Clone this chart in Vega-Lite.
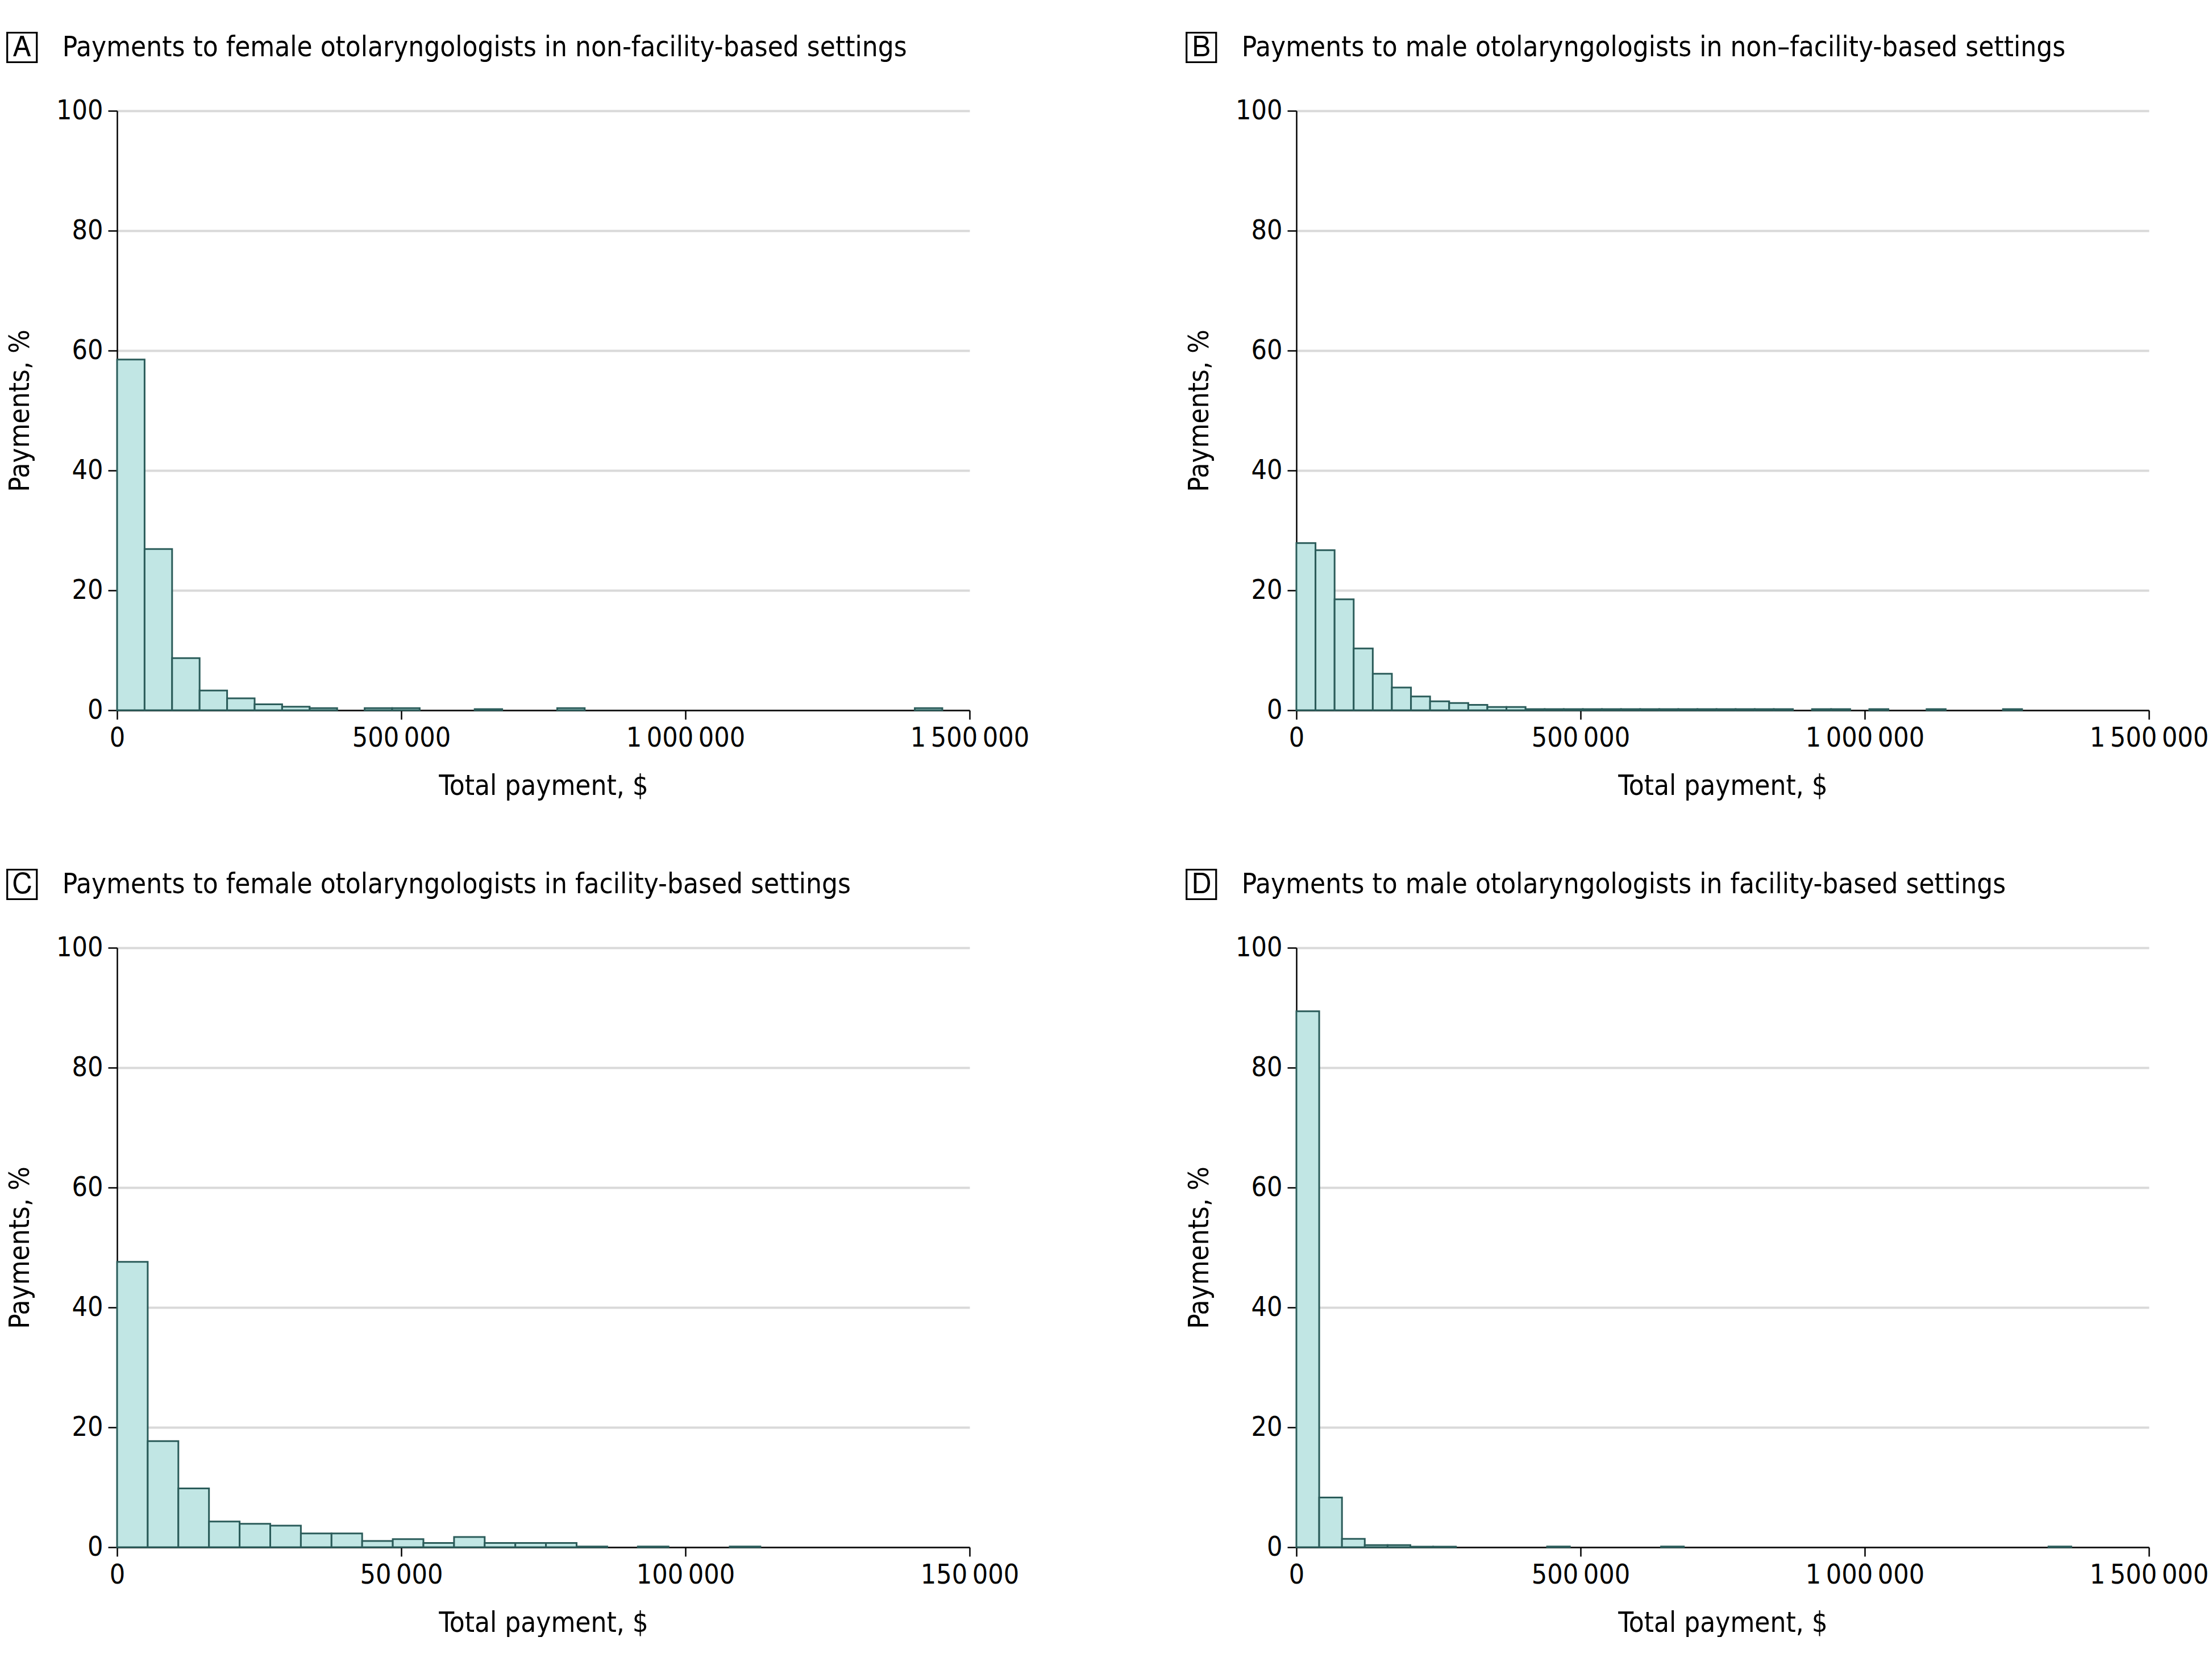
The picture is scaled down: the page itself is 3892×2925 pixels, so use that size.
{
  "$schema": "https://vega.github.io/schema/vega-lite/v6.json",
  "background": "white",
  "padding": {"left": 11, "top": 60, "right": 0, "bottom": 0},
  "columns": 2,
  "spacing": {"row": 125, "column": 275},
  "datasets": {
    "a": [
      {"start": 0, "end": 48400, "pct": 58.5},
      {"start": 48400, "end": 96800, "pct": 26.9},
      {"start": 96800, "end": 145200, "pct": 8.7},
      {"start": 145200, "end": 193600, "pct": 3.3},
      {"start": 193600, "end": 242000, "pct": 2.0},
      {"start": 242000, "end": 290400, "pct": 1.0},
      {"start": 290400, "end": 338800, "pct": 0.6},
      {"start": 338800, "end": 387200, "pct": 0.35},
      {"start": 435600, "end": 484000, "pct": 0.35},
      {"start": 484000, "end": 532400, "pct": 0.35},
      {"start": 629200, "end": 677600, "pct": 0.2},
      {"start": 774400, "end": 822800, "pct": 0.35},
      {"start": 1403600, "end": 1452000, "pct": 0.35}
    ],
    "b": [
      {"start": 0, "end": 33600, "pct": 27.9},
      {"start": 33600, "end": 67200, "pct": 26.7},
      {"start": 67200, "end": 100800, "pct": 18.5},
      {"start": 100800, "end": 134400, "pct": 10.3},
      {"start": 134400, "end": 168000, "pct": 6.1},
      {"start": 168000, "end": 201600, "pct": 3.8},
      {"start": 201600, "end": 235200, "pct": 2.3},
      {"start": 235200, "end": 268800, "pct": 1.5},
      {"start": 268800, "end": 302400, "pct": 1.2},
      {"start": 302400, "end": 336000, "pct": 0.9},
      {"start": 336000, "end": 369600, "pct": 0.55},
      {"start": 369600, "end": 403200, "pct": 0.55},
      {"start": 403200, "end": 436800, "pct": 0.2},
      {"start": 436800, "end": 470400, "pct": 0.2},
      {"start": 470400, "end": 504000, "pct": 0.2},
      {"start": 504000, "end": 537600, "pct": 0.2},
      {"start": 537600, "end": 571200, "pct": 0.2},
      {"start": 571200, "end": 604800, "pct": 0.2},
      {"start": 604800, "end": 638400, "pct": 0.2},
      {"start": 638400, "end": 672000, "pct": 0.2},
      {"start": 672000, "end": 705600, "pct": 0.2},
      {"start": 705600, "end": 739200, "pct": 0.2},
      {"start": 739200, "end": 772800, "pct": 0.2},
      {"start": 772800, "end": 806400, "pct": 0.2},
      {"start": 806400, "end": 840000, "pct": 0.2},
      {"start": 840000, "end": 873600, "pct": 0.2},
      {"start": 907200, "end": 940800, "pct": 0.2},
      {"start": 940800, "end": 974400, "pct": 0.2},
      {"start": 1008000, "end": 1041600, "pct": 0.2},
      {"start": 1108800, "end": 1142400, "pct": 0.2},
      {"start": 1243200, "end": 1276800, "pct": 0.2}
    ],
    "c": [
      {"start": 0, "end": 5390, "pct": 47.6},
      {"start": 5390, "end": 10780, "pct": 17.7},
      {"start": 10780, "end": 16170, "pct": 9.8},
      {"start": 16170, "end": 21560, "pct": 4.3},
      {"start": 21560, "end": 26950, "pct": 3.9},
      {"start": 26950, "end": 32340, "pct": 3.6},
      {"start": 32340, "end": 37730, "pct": 2.3},
      {"start": 37730, "end": 43120, "pct": 2.3},
      {"start": 43120, "end": 48510, "pct": 1.05},
      {"start": 48510, "end": 53900, "pct": 1.35},
      {"start": 53900, "end": 59290, "pct": 0.7},
      {"start": 59290, "end": 64680, "pct": 1.7},
      {"start": 64680, "end": 70070, "pct": 0.7},
      {"start": 70070, "end": 75460, "pct": 0.7},
      {"start": 75460, "end": 80850, "pct": 0.7},
      {"start": 80850, "end": 86240, "pct": 0.12},
      {"start": 91630, "end": 97020, "pct": 0.12},
      {"start": 107800, "end": 113190, "pct": 0.12}
    ],
    "d": [
      {"start": 0, "end": 40100, "pct": 89.4},
      {"start": 40100, "end": 80200, "pct": 8.3},
      {"start": 80200, "end": 120300, "pct": 1.4},
      {"start": 120300, "end": 160400, "pct": 0.35},
      {"start": 160400, "end": 200500, "pct": 0.35},
      {"start": 200500, "end": 240600, "pct": 0.1},
      {"start": 240600, "end": 280700, "pct": 0.1},
      {"start": 441100, "end": 481200, "pct": 0.12},
      {"start": 641600, "end": 681700, "pct": 0.12},
      {"start": 1323300, "end": 1363400, "pct": 0.12}
    ]
  },
  "concat": [
    {
      "title": "🄰\u2003Payments to female otolaryngologists in non-facility-based settings",
      "width": 1500, "height": 1055,
      "data": {"name": "a"},
      "mark": {"type": "bar", "fill": "#c1e6e4", "stroke": "#2b5c5a", "strokeWidth": 3},
      "encoding": {
        "x": {"field": "start", "type": "quantitative", "title": "Total payment, $", "scale": {"domain": [0, 1500000], "nice": false}, "axis": {"values": [0, 500000, 1000000, 1500000]}},
        "x2": {"field": "end"},
        "y": {"field": "pct", "type": "quantitative", "title": "Payments, %", "scale": {"domain": [0, 100], "nice": false}, "axis": {"values": [0, 20, 40, 60, 80, 100]}},
        "y2": {"datum": 0}
      }
    },
    {
      "title": "🄱\u2003Payments to male otolaryngologists in non–facility-based settings",
      "width": 1500, "height": 1055,
      "data": {"name": "b"},
      "mark": {"type": "bar", "fill": "#c1e6e4", "stroke": "#2b5c5a", "strokeWidth": 3},
      "encoding": {
        "x": {"field": "start", "type": "quantitative", "title": "Total payment, $", "scale": {"domain": [0, 1500000], "nice": false}, "axis": {"values": [0, 500000, 1000000, 1500000]}},
        "x2": {"field": "end"},
        "y": {"field": "pct", "type": "quantitative", "title": "Payments, %", "scale": {"domain": [0, 100], "nice": false}, "axis": {"values": [0, 20, 40, 60, 80, 100]}},
        "y2": {"datum": 0}
      }
    },
    {
      "title": "🄲\u2003Payments to female otolaryngologists in facility-based settings",
      "width": 1500, "height": 1055,
      "data": {"name": "c"},
      "mark": {"type": "bar", "fill": "#c1e6e4", "stroke": "#2b5c5a", "strokeWidth": 3},
      "encoding": {
        "x": {"field": "start", "type": "quantitative", "title": "Total payment, $", "scale": {"domain": [0, 150000], "nice": false}, "axis": {"values": [0, 50000, 100000, 150000]}},
        "x2": {"field": "end"},
        "y": {"field": "pct", "type": "quantitative", "title": "Payments, %", "scale": {"domain": [0, 100], "nice": false}, "axis": {"values": [0, 20, 40, 60, 80, 100]}},
        "y2": {"datum": 0}
      }
    },
    {
      "title": "🄳\u2003Payments to male otolaryngologists in facility-based settings",
      "width": 1500, "height": 1055,
      "data": {"name": "d"},
      "mark": {"type": "bar", "fill": "#c1e6e4", "stroke": "#2b5c5a", "strokeWidth": 3},
      "encoding": {
        "x": {"field": "start", "type": "quantitative", "title": "Total payment, $", "scale": {"domain": [0, 1500000], "nice": false}, "axis": {"values": [0, 500000, 1000000, 1500000]}},
        "x2": {"field": "end"},
        "y": {"field": "pct", "type": "quantitative", "title": "Payments, %", "scale": {"domain": [0, 100], "nice": false}, "axis": {"values": [0, 20, 40, 60, 80, 100]}},
        "y2": {"datum": 0}
      }
    }
  ],
  "config": {
    "locale": {"number": {"decimal": ".", "thousands": "\u2009", "grouping": [3], "currency": ["$", ""]}},
    "font": "DejaVu Sans Condensed",
    "view": {"stroke": null},
    "axis": {
      "labelFont": "DejaVu Sans Condensed",
      "titleFont": "DejaVu Sans Condensed",
      "labelFontSize": 48,
      "titleFontSize": 49,
      "titleFontWeight": "normal",
      "labelColor": "#000000",
      "titleColor": "#000000",
      "domainColor": "#000000",
      "tickColor": "#000000",
      "domainWidth": 2.5,
      "tickWidth": 2.5,
      "tickSize": 16,
      "labelPadding": 9,
      "labelLimit": 0,
      "format": ",d",
      "gridColor": "#d9d9d9",
      "gridWidth": 4
    },
    "axisX": {"grid": false, "titlePadding": 36, "labelFlush": false},
    "axisY": {"grid": true, "titlePadding": 38},
    "title": {
      "anchor": "start",
      "frame": "bounds",
      "font": "DejaVu Sans Condensed",
      "fontSize": 49,
      "fontWeight": "normal",
      "color": "#000000",
      "offset": 62
    }
  }
}
